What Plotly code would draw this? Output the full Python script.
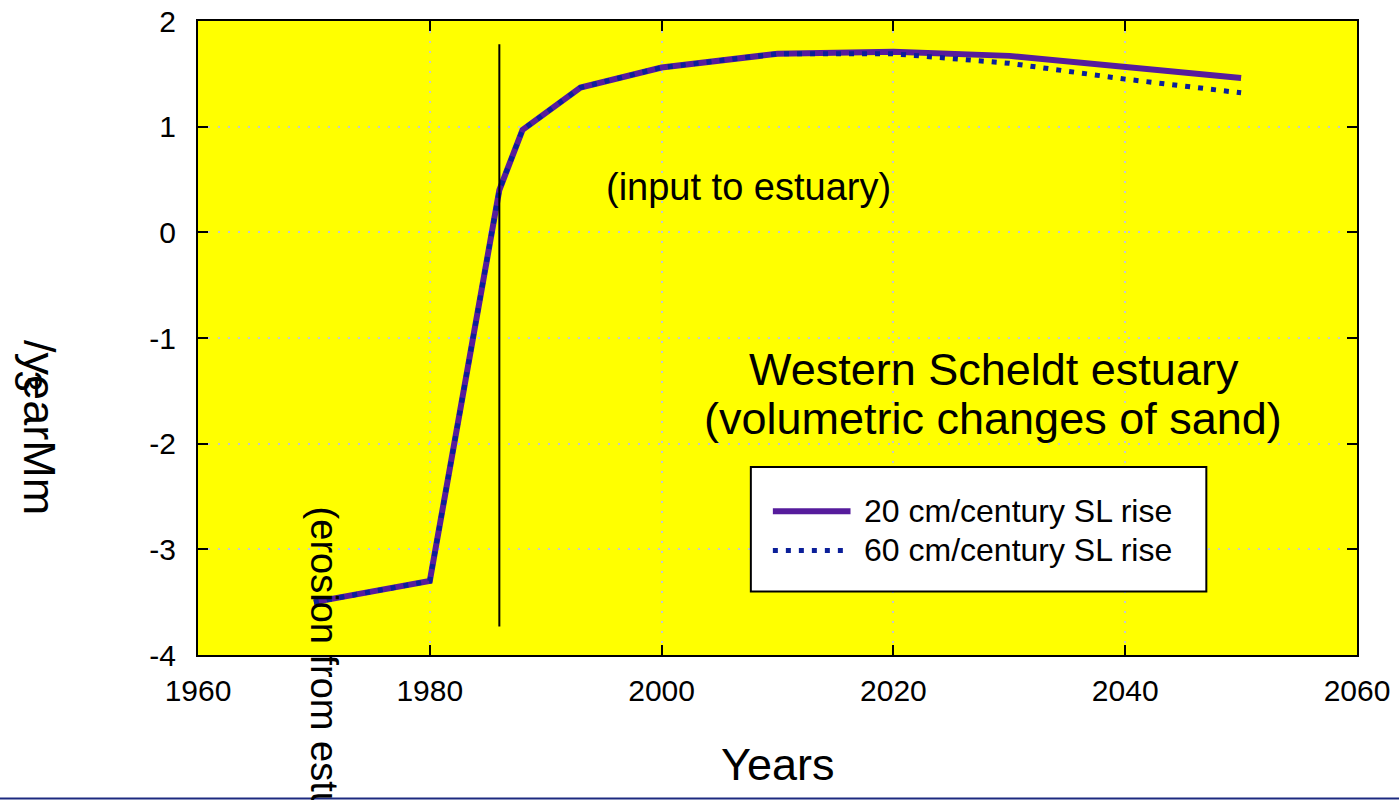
import plotly.graph_objects as go

# Net sand volume change of the Western Scheldt estuary (Mm3/year)
years = [1970, 1980, 1986, 1988, 1993, 2000, 2010, 2020, 2030, 2040, 2050]
rise_20cm = [-3.50, -3.30, 0.40, 0.97, 1.37, 1.56, 1.69, 1.71, 1.67, 1.57, 1.46]
rise_60cm = [-3.50, -3.30, 0.40, 0.97, 1.37, 1.56, 1.69, 1.69, 1.60, 1.45, 1.32]
series_names = ["20 cm/century SL rise", "60 cm/century SL rise"]

x_ticks = [1960, 1980, 2000, 2020, 2040, 2060]
y_ticks = [-4, -3, -2, -1, 0, 1, 2]
y_tick_text = ["-4", "-3", "-2", "-1", "0", "1", "2"]

# reference marker year and its vertical extent
marker_year = 1986
marker_span = [-3.73, 1.78]

FONT = "Liberation Sans, Arial, sans-serif"
C20 = "#561c9c"
C60 = "#0b1f99"

fig = go.Figure()
fig.add_trace(go.Scatter(x=years, y=rise_20cm, mode="lines", name=series_names[0],
                         line=dict(color=C20, width=6), showlegend=False))
fig.add_trace(go.Scatter(x=years, y=rise_60cm, mode="lines", name=series_names[1],
                         line=dict(color=C60, width=5, dash="5px,8px"), showlegend=False))

axis_common = dict(
    showline=True, linecolor="black", linewidth=2, mirror="ticks",
    ticks="inside", ticklen=10, tickwidth=2, tickcolor="black",
    showgrid=True, gridcolor="#c8c8c8", gridwidth=2, griddash="2px,8px",
    zeroline=False, automargin=False,
    tickfont=dict(family=FONT, size=30, color="black"),
)
fig.update_xaxes(range=[1960, 2060], tickvals=x_ticks, ticklabelstandoff=8, **axis_common)
fig.update_yaxes(range=[-4, 2], tickvals=y_ticks, ticktext=y_tick_text,
                 ticklabelstandoff=14, **axis_common)

shapes = [
    # vertical marker line
    dict(type="line", xref="x", yref="y", x0=marker_year, x1=marker_year,
         y0=marker_span[0], y1=marker_span[1], line=dict(color="black", width=2)),
    # legend box
    dict(type="rect", xref="x", yref="y", x0=2007.7, x1=2047.0, y0=-3.40, y1=-2.22,
         fillcolor="white", line=dict(color="black", width=2), layer="above"),
    dict(type="line", xref="x", yref="y", x0=2009.6, x1=2016.3, y0=-2.64, y1=-2.64,
         line=dict(color=C20, width=6)),
    dict(type="line", xref="x", yref="y", x0=2009.6, x1=2016.3, y0=-3.01, y1=-3.01,
         line=dict(color=C60, width=5, dash="5px,8px")),
    # bottom rule
    dict(type="line", xref="paper", yref="paper", x0=-0.2, x1=1.1, y0=-0.2265, y1=-0.2265,
         line=dict(color="#1c2a80", width=2)),
]

def note(text, x, y, size, ref="data", angle=0, xa="center", ya="middle"):
    xr, yr = ("x", "y") if ref == "data" else ("paper", "paper")
    return dict(text=text, x=x, y=y, xref=xr, yref=yr, textangle=angle,
                xanchor=xa, yanchor=ya, showarrow=False,
                font=dict(family=FONT, size=size, color="black"))

annotations = [
    note("(input to estuary)", 2007.5, 0.43, 38),
    note("Western Scheldt estuary", 2028.7, -1.30, 45),
    note("(volumetric changes of sand)", 2028.6, -1.76, 45),
    note("(erosion from estuary)", 1970.9, -2.58, 38, angle=90, ya="top"),
    note(series_names[0], 2017.3, -2.64, 32, xa="left"),
    note(series_names[1], 2017.3, -3.01, 32, xa="left"),
    note("Years", 0.5, -0.1735, 45, ref="paper"),
    note("/yearMm", -0.1364, 0.358, 45, ref="paper", angle=90),
    note("3", -0.147, 0.432, 38, ref="paper", angle=90),
]

fig.update_layout(
    width=1399, height=800,
    margin=dict(l=198, r=42, t=21, b=145),
    plot_bgcolor="#ffff00", paper_bgcolor="white",
    shapes=shapes, annotations=annotations,
    font=dict(family=FONT, color="black"),
)

fig.write_html("out.html")
